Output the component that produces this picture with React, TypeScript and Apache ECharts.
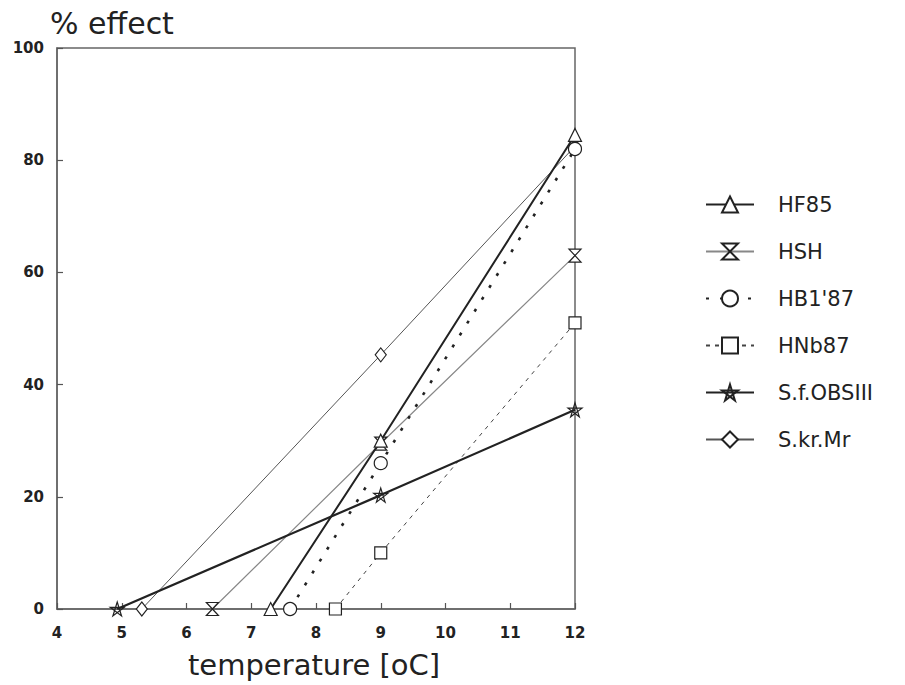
import React, { useEffect, useRef } from "react";
import * as echarts from "echarts";

// ---- data (temperature in °C, % effect) ----
const seriesNames = ["HF85", "HSH", "HB1'87", "HNb87", "S.f.OBSIII", "S.kr.Mr"];

const hf85X = [7.3, 9, 12];
const hf85Y = [0, 30, 84.5];

const hshX = [6.4, 9, 12];
const hshY = [0, 29.5, 63];

const hb187X = [7.6, 9, 12];
const hb187Y = [0, 26, 82];

const hnb87X = [8.3, 9, 12];
const hnb87Y = [0, 10, 51];

const sfObsX = [4.93, 9, 12];
const sfObsY = [0, 20.3, 35.5];

const skrMrX = [5.31, 9, 12];
const skrMrY = [0, 45.3, 82.5];

const xTicks = [4, 5, 6, 7, 8, 9, 10, 11, 12];
const yTicks = [0, 20, 40, 60, 80, 100];

const FONT = "DejaVu Sans";

const hourglass = "path://M0,0 L10,0 L0,12 L10,12 Z";
const pentagram =
  "path://M10,0 L15.88,18.09 L0.49,6.91 L19.51,6.91 L4.12,18.09 Z";

function pairs(xs: number[], ys: number[]) {
  return xs.map((x, i) => [x, ys[i]]);
}

export default function App() {
  const ref = useRef<HTMLDivElement>(null);

  useEffect(() => {
    if (!ref.current) return;
    const chart = echarts.init(ref.current, null, { renderer: "svg" });

    const mk = (
      name: string,
      data: number[][],
      symbol: string,
      symbolSize: number | number[],
      line: any,
      z = 3,
      fill = "#fff"
    ) => ({
      name,
      type: "line",
      data,
      symbol,
      symbolSize,
      showSymbol: true,
      z,
      lineStyle: line,
      itemStyle: { color: fill, borderColor: "#222", borderWidth: 1.2 },
      emphasis: { disabled: true },
    });

    chart.setOption({
      animation: false,
      backgroundColor: "#fff",
      grid: {
        left: 57,
        right: 330,
        top: 48,
        bottom: 76,
        show: true,
        borderColor: "#666",
        borderWidth: 1.5,
        backgroundColor: "transparent",
      },
      xAxis: {
        type: "value",
        min: xTicks[0],
        max: xTicks[xTicks.length - 1],
        interval: 1,
        splitLine: { show: false },
        axisLine: { show: true, lineStyle: { color: "#666", width: 1.5 } },
        axisTick: { show: true, inside: true, length: 6, lineStyle: { color: "#555", width: 1.2 } },
        axisLabel: {
          margin: 16,
          fontFamily: FONT,
          fontSize: 15,
          fontWeight: "bold",
          color: "#222",
          showMinLabel: true,
          showMaxLabel: true,
        },
      },
      yAxis: {
        type: "value",
        min: yTicks[0],
        max: yTicks[yTicks.length - 1],
        interval: 20,
        splitLine: { show: false },
        axisLine: { show: true, lineStyle: { color: "#666", width: 1.5 } },
        axisTick: { show: true, inside: true, length: 6, lineStyle: { color: "#555", width: 1.2 } },
        axisLabel: { margin: 13, fontFamily: FONT, fontSize: 15, fontWeight: "bold", color: "#222" },
      },
      legend: {
        orient: "vertical",
        left: 700,
        top: 189,
        itemWidth: 48,
        itemHeight: 20,
        itemGap: 26,
        selectedMode: false,
        data: seriesNames,
        textStyle: {
          fontFamily: FONT,
          fontSize: 21,
          color: "#222",
          padding: [0, 0, 0, 19],
        },
      },
      graphic: [
        {
          type: "text",
          left: 50,
          top: 8,
          style: { text: "% effect", fontFamily: FONT, fontSize: 30, fill: "#222" },
        },
        {
          type: "text",
          left: 188,
          top: 650,
          style: { text: "temperature [oC]", fontFamily: FONT, fontSize: 29, fill: "#222" },
        },
      ],
      series: [
        mk(seriesNames[0], pairs(hf85X, hf85Y), "triangle", 13, { color: "#222", width: 2 }, 5),
        mk(seriesNames[1], pairs(hshX, hshY), hourglass, [12, 13], { color: "#888", width: 1.2 }, 3),
        mk(seriesNames[2], pairs(hb187X, hb187Y), "circle", 13, { color: "#222", width: 2.6, type: [3, 11] }, 4),
        mk(seriesNames[3], pairs(hnb87X, hnb87Y), "rect", 12, { color: "#444", width: 1, type: [4, 5] }, 3),
        mk(seriesNames[4], pairs(sfObsX, sfObsY), pentagram, 14, { color: "#222", width: 2.2 }, 3, "rgba(255,255,255,0)"),
        mk(seriesNames[5], pairs(skrMrX, skrMrY), "diamond", [11, 14], { color: "#555", width: 1 }, 2),
      ],
    });

    return () => chart.dispose();
  }, []);

  return (
    <div
      ref={ref}
      style={{ width: 905, height: 685, position: "absolute", left: 0, top: 0 }}
    />
  );
}
